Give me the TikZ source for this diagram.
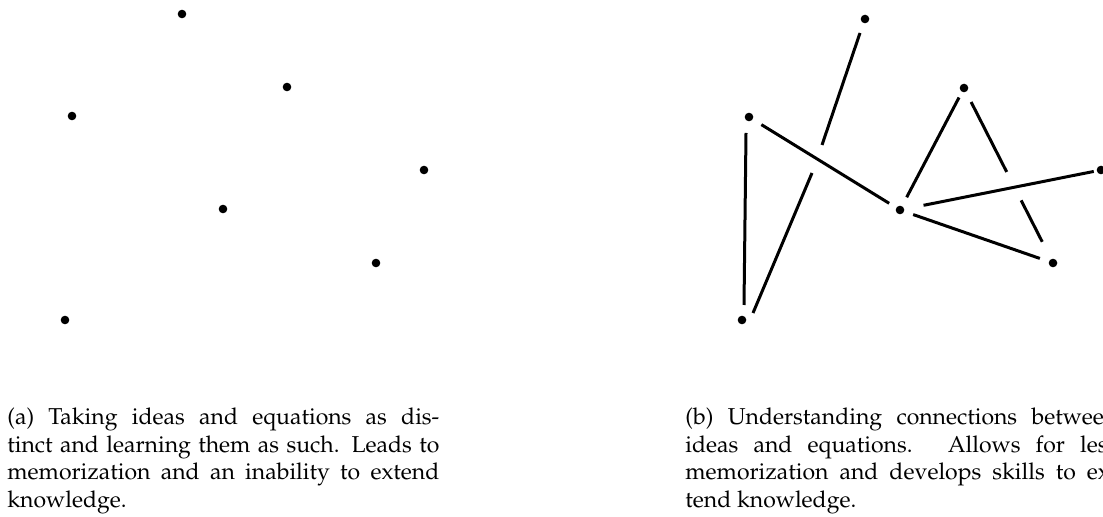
\documentclass[tikz,border=0pt]{standalone}
\usepackage[T1]{fontenc}
\usepackage{mathpazo}
\usetikzlibrary{calc}
\begin{document}
\begin{tikzpicture}[x=0.5pt,y=-0.5pt,
  dot/.style={circle,fill=black,inner sep=0pt,minimum size=4.3pt},
  link/.style={line width=1.5pt},
  captext/.style={anchor=base west,inner sep=0pt,align=left}]
\useasboundingbox (0,0) rectangle (1103,517);
\clip (0,0) rectangle (1103,517);
% (a) isolated ideas
\node[dot] (aT)  at (182,14) {};
\node[dot] (aL)  at (72,116) {};
\node[dot] (aMT) at (287,87) {};
\node[dot] (aR)  at (424,170) {};
\node[dot] (aC)  at (223,209) {};
\node[dot] (aBR) at (376,263) {};
\node[dot] (aBL) at (65,320) {};
% (b) connected ideas
\node[dot] (bT)  at (865,19) {};
\node[dot] (bL)  at (749,117) {};
\node[dot] (bMT) at (964,88) {};
\node[dot] (bR)  at (1101,170) {};
\node[dot] (bC)  at (900,210) {};
\node[dot] (bBR) at (1053,263) {};
\node[dot] (bBL) at (742,320) {};
\draw[link] ($(bL.center)+(-3,16)$) -- ($(bBL.center)+(2,-15)$);
\draw[link] ($(bBL.center)+(11,-7)$) -- ($(bBL.center)+(70,-147)$);
\draw[link] ($(bT.center)+(-43,126)$) -- ($(bT.center)+(-5,14)$);
\draw[link] ($(bL.center)!0.082!(bC.center)$) -- ($(bL.center)!0.928!(bC.center)$);
\draw[link] ($(bC.center)!0.104!(bMT.center)$) -- ($(bC.center)!0.922!(bMT.center)$);
\draw[link] ($(bMT.center)!0.08!(bBR.center)$) -- ($(bMT.center)!0.48!(bBR.center)$);
\draw[link] ($(bMT.center)!0.642!(bBR.center)$) -- ($(bMT.center)!0.879!(bBR.center)$);
\draw[link] ($(bC.center)!0.117!(bR.center)$) -- ($(bC.center)!0.964!(bR.center)$);
\draw[link] ($(bC.center)!0.086!(bBR.center)$) -- ($(bC.center)!0.914!(bBR.center)$);
% captions
\node[captext] (capA) at (7,425) {\parbox[t]{216pt}{\fontsize{11.5pt}{13.75pt}\selectfont
(a) Taking ideas and equations as dis-\linebreak tinct and learning them as such. Leads to\linebreak memorization and an inability to extend\linebreak knowledge.}};
\node[captext] (capB) at (685,425) {\parbox[t]{216pt}{\fontsize{11.5pt}{13.75pt}\selectfont
(b) Understanding connections between\linebreak ideas and equations. Allows for less\linebreak memorization and develops skills to ex-\linebreak tend knowledge.}};
\end{tikzpicture}
\end{document}
